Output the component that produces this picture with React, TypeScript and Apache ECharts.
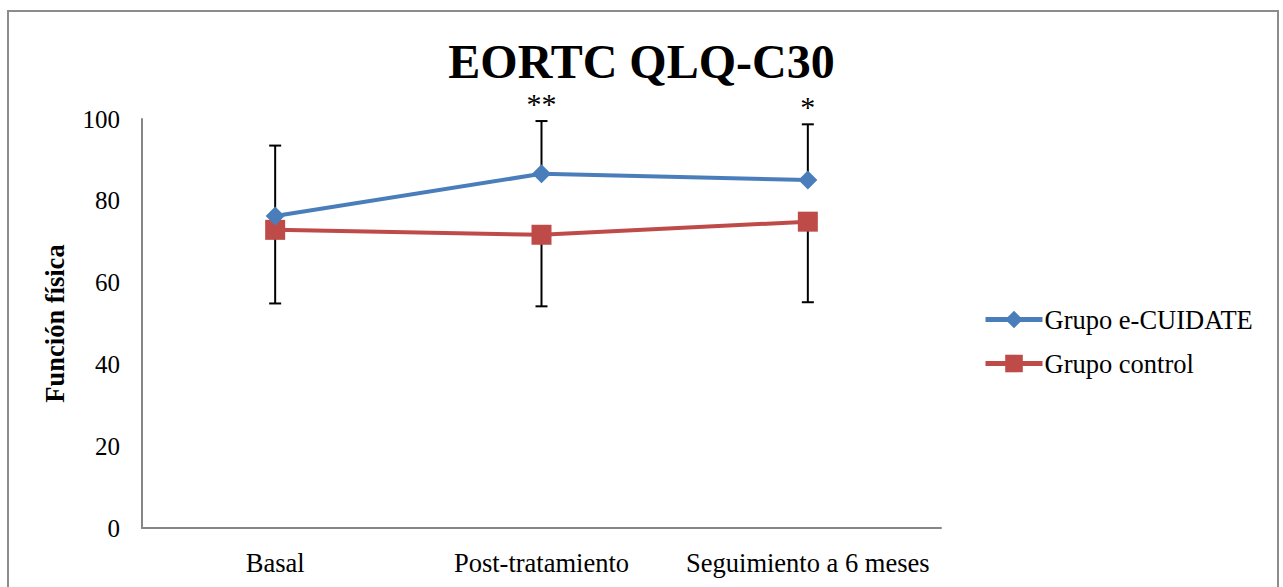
import React, { useEffect, useRef } from "react";
import * as echarts from "echarts";

const categories = ["Basal", "Post-tratamiento", "Seguimiento a 6 meses"];
const seriesNames = ["Grupo e-CUIDATE", "Grupo control"];
const cuidateValues = [76.3, 86.6, 85.1];
const controlValues = [72.9, 71.7, 74.9];
const cuidateUpper = [93.5, 99.5, 98.7];
const controlLower = [54.9, 54.2, 55.2];
const significance = ["", "**", "*"];
const yTicks = [0, 20, 40, 60, 80, 100];

const FONT = "'Liberation Serif', 'Times New Roman', serif";

export default function App() {
  const ref = useRef<HTMLDivElement>(null);
  useEffect(() => {
    if (!ref.current) return;
    const chart = echarts.init(ref.current, null, { renderer: "svg" });

    const errData = (vals: number[], bounds: number[]) =>
      vals.map((v, i) => [i, v, bounds[i]]);

    const errRender = (params: any, api: any) => {
      const i = api.value(0);
      const a = api.coord([i, api.value(1)]);
      const b = api.coord([i, api.value(2)]);
      const cap = 6;
      return {
        type: "group",
        children: [
          { type: "line", shape: { x1: a[0], y1: a[1], x2: b[0], y2: b[1] }, style: { stroke: "#000", lineWidth: 2 } },
          { type: "line", shape: { x1: b[0] - cap, y1: b[1], x2: b[0] + cap, y2: b[1] }, style: { stroke: "#000", lineWidth: 2 } },
        ],
      };
    };

    chart.setOption({
      animation: false,
      backgroundColor: "#fff",
      title: {
        text: "EORTC QLQ-C30",
        left: "center",
        top: 32,
        textStyle: { fontFamily: FONT, fontSize: 48, fontWeight: "bold", color: "#000" },
      },
      legend: {
        orient: "vertical",
        left: 978,
        top: 301,
        itemWidth: 57,
        itemHeight: 22,
        itemGap: 17,
        data: seriesNames,
        lineStyle: { width: 5 },
        textStyle: { fontFamily: FONT, fontSize: 26.5, color: "#000", padding: [0, 0, 0, -3] },
      },
      grid: { left: 142, right: 342, top: 119, bottom: 59, containLabel: false },
      xAxis: {
        type: "category",
        data: categories,
        boundaryGap: true,
        axisLine: { lineStyle: { color: "#868686", width: 2 } },
        axisTick: { show: false },
        axisLabel: { fontFamily: FONT, fontSize: 26.5, color: "#000", margin: 21, interval: 0 },
      },
      yAxis: {
        type: "value",
        min: 0,
        max: 100,
        interval: 20,
        name: "Función física",
        nameLocation: "middle",
        nameGap: 74,
        nameTextStyle: { fontFamily: FONT, fontSize: 26.5, fontWeight: "bold", color: "#000" },
        axisLine: { show: true, lineStyle: { color: "#868686", width: 2 } },
        axisTick: { show: false },
        splitLine: { show: false },
        axisLabel: {
          fontFamily: FONT,
          fontSize: 25,
          color: "#000",
          margin: 22,
          formatter: (v: number) => (yTicks.includes(v) ? String(v) : ""),
        },
      },
      series: [
        {
          type: "custom",
          name: "errUp",
          renderItem: errRender,
          data: errData(cuidateValues, cuidateUpper),
          z: 1,
          silent: true,
        },
        {
          type: "custom",
          name: "errDown",
          renderItem: errRender,
          data: errData(controlValues, controlLower),
          z: 1,
          silent: true,
        },
        {
          type: "custom",
          name: "sig",
          renderItem: (params: any, api: any) => {
            const i = api.value(0);
            const p = api.coord([i, api.value(1)]);
            return {
              type: "text",
              x: p[0],
              y: p[1] - 18,
              style: {
                text: significance[i],
                fontFamily: FONT,
                fontSize: 30,
                lineHeight: 18,
                fill: "#000",
                align: "center",
                verticalAlign: "middle",
              },
            };
          },
          data: cuidateUpper.map((v, i) => [i, v]),
          z: 3,
          silent: true,
        },
        {
          type: "line",
          name: seriesNames[0],
          data: cuidateValues,
          symbol: "diamond",
          symbolSize: 19,
          lineStyle: { color: "#4A7EBB", width: 4 },
          itemStyle: { color: "#4A7EBB" },
          z: 5,
        },
        {
          type: "line",
          name: seriesNames[1],
          data: controlValues,
          symbol: "rect",
          symbolSize: 20,
          lineStyle: { color: "#BE4B48", width: 4 },
          itemStyle: { color: "#BE4B48" },
          z: 4,
        },
      ],
      graphic: [
        {
          type: "polyline",
          shape: { points: [[8, 600], [8, 11], [1278, 11], [1278, 600]] },
          style: { stroke: "#8c8c8c", lineWidth: 2, fill: "none" },
          silent: true,
        },
      ],
    });
    return () => chart.dispose();
  }, []);
  return (
    <div
      ref={ref}
      style={{ position: "fixed", left: 0, top: 0, width: 1283, height: 587 }}
    />
  );
}
